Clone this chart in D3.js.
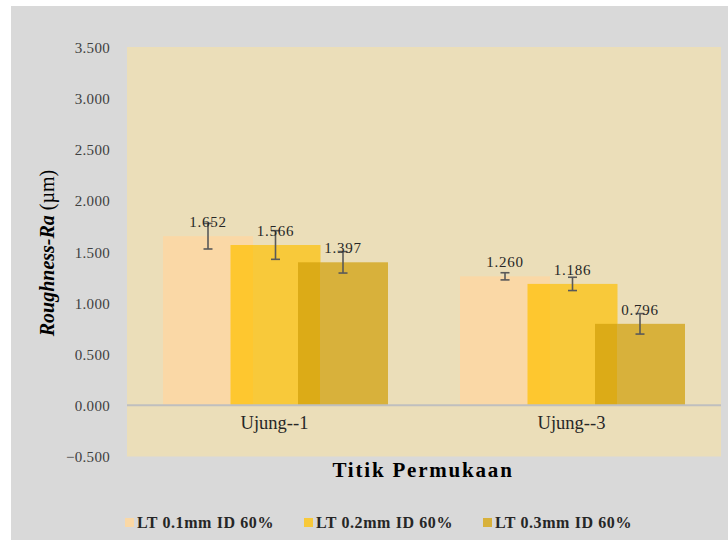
<!DOCTYPE html>
<html><head><meta charset="utf-8">
<script src="https://cdn.jsdelivr.net/npm/d3@7"></script>
<style>body{margin:0;background:#fff}svg{display:block}</style>
</head><body>
<script>
const categories = ["Ujung--1", "Ujung--3"];
const seriesNames = ["LT 0.1mm ID 60%", "LT 0.2mm ID 60%", "LT 0.3mm ID 60%"];
const values = [[1.652, 1.260], [1.566, 1.186], [1.397, 0.796]];
const errors = [[0.125, 0.035], [0.14, 0.065], [0.105, 0.10]];
const yTicks = [-0.5, 0, 0.5, 1.0, 1.5, 2.0, 2.5, 3.0, 3.5];

const colors = ["#fad8a6", "#f8c93a", "#d8b13b"];
const overlapColors = [null, "#fec72f", "#dcab17"];
const serif = "'Liberation Serif', 'Times New Roman', 'DejaVu Serif', serif";

const W = 728, H = 540;
const svg = d3.select("body").append("svg").attr("width", W).attr("height", H);
svg.append("rect").attr("x", 11).attr("y", 6).attr("width", W - 11).attr("height", H - 6).attr("fill", "#d9d9d9");

const plot = {l: 127, r: 721, t: 47, b: 456.5};
svg.append("rect").attr("x", plot.l).attr("y", plot.t).attr("width", plot.r - plot.l).attr("height", plot.b - plot.t).attr("fill", "#ebdeb9");

const x = d3.scaleBand().domain(categories).range([plot.l, plot.r]);
const y = d3.scaleLinear().domain([-0.5, 3.5]).range([plot.b, plot.t]);

const gapWidth = 0.8, overlap = 0.25;
const n = seriesNames.length;
const barW = x.bandwidth() / (gapWidth + 1 + (n - 1) * (1 - overlap));
const stepW = barW * (1 - overlap);
const groupW = barW + (n - 1) * stepW;

const defs = svg.append("defs");
overlapColors.forEach((c, i) => {
  if (!c) return;
  const g = defs.append("linearGradient").attr("id", "g" + i).attr("x1", 0).attr("x2", 1).attr("y1", 0).attr("y2", 0);
  g.append("stop").attr("offset", overlap).attr("stop-color", c);
  g.append("stop").attr("offset", overlap).attr("stop-color", colors[i]);
});

// y axis
const yAxis = d3.axisLeft(y).tickValues(yTicks).tickSize(0).tickPadding(0).tickFormat(d3.format(".3f"));
const ya = svg.append("g").attr("transform", "translate(110,0)").call(yAxis);
ya.select(".domain").remove();
ya.selectAll("text").attr("font-family", serif).attr("font-size", 15).attr("letter-spacing", 0.3).attr("fill", "#404040").attr("dy", "0.35em");

// bars
const barX = (ci, si) => x(categories[ci]) + x.bandwidth() / 2 - groupW / 2 + si * stepW;
seriesNames.forEach((s, si) => {
  svg.append("g").selectAll("rect").data(values[si]).join("rect")
    .attr("x", (d, ci) => barX(ci, si))
    .attr("width", barW)
    .attr("y", d => y(d))
    .attr("height", d => y(0) - y(d))
    .attr("fill", overlapColors[si] ? `url(#g${si})` : colors[si]);
});

// zero line
svg.append("line").attr("x1", plot.l).attr("x2", plot.r).attr("y1", y(0)).attr("y2", y(0)).attr("stroke", "#bfbfbf").attr("stroke-width", 2);

// error bars and labels
seriesNames.forEach((s, si) => {
  values[si].forEach((v, ci) => {
    const cx = barX(ci, si) + barW / 2;
    const e = errors[si][ci];
    const g = svg.append("g").attr("stroke", "#595959").attr("stroke-width", 1.6);
    g.append("line").attr("x1", cx).attr("x2", cx).attr("y1", y(v + e)).attr("y2", y(v - e));
    g.append("line").attr("x1", cx - 4.5).attr("x2", cx + 4.5).attr("y1", y(v + e)).attr("y2", y(v + e));
    g.append("line").attr("x1", cx - 4.5).attr("x2", cx + 4.5).attr("y1", y(v - e)).attr("y2", y(v - e));
    svg.append("text").attr("x", cx).attr("y", y(v) - 9).attr("text-anchor", "middle")
      .attr("font-family", serif).attr("font-size", 15).attr("letter-spacing", 0.8).attr("fill", "#262626")
      .text(d3.format(".3f")(v));
  });
});

// category labels
svg.append("g").selectAll("text").data(categories).join("text")
  .attr("x", d => x(d) + x.bandwidth() / 2 - 1).attr("y", 429).attr("text-anchor", "middle")
  .attr("font-family", serif).attr("font-size", 18.5).attr("fill", "#262626").text(d => d);

// axis titles
svg.append("text").attr("x", (plot.l + plot.r) / 2 - 1).attr("y", 477).attr("text-anchor", "middle")
  .attr("font-family", serif).attr("font-weight", "bold").attr("font-size", 21).attr("letter-spacing", 1.8)
  .attr("fill", "#000").text("Titik Permukaan");

const yt = svg.append("text").attr("transform", "translate(54,253) rotate(-90)").attr("text-anchor", "middle")
  .attr("font-family", serif).attr("font-size", 20).attr("fill", "#000");
yt.append("tspan").attr("font-weight", "bold").attr("font-style", "italic").text("Roughness-Ra");
yt.append("tspan").text(" (µm)");

// legend
const legX = [125, 304, 483];
seriesNames.forEach((s, i) => {
  svg.append("rect").attr("x", legX[i]).attr("y", 518).attr("width", 9).attr("height", 9).attr("fill", colors[i]);
  svg.append("text").attr("x", legX[i] + 12).attr("y", 528)
    .attr("font-family", serif).attr("font-weight", "bold").attr("font-size", 16).attr("letter-spacing", 0.6)
    .attr("fill", "#262626").text(s);
});
</script>
</body></html>
